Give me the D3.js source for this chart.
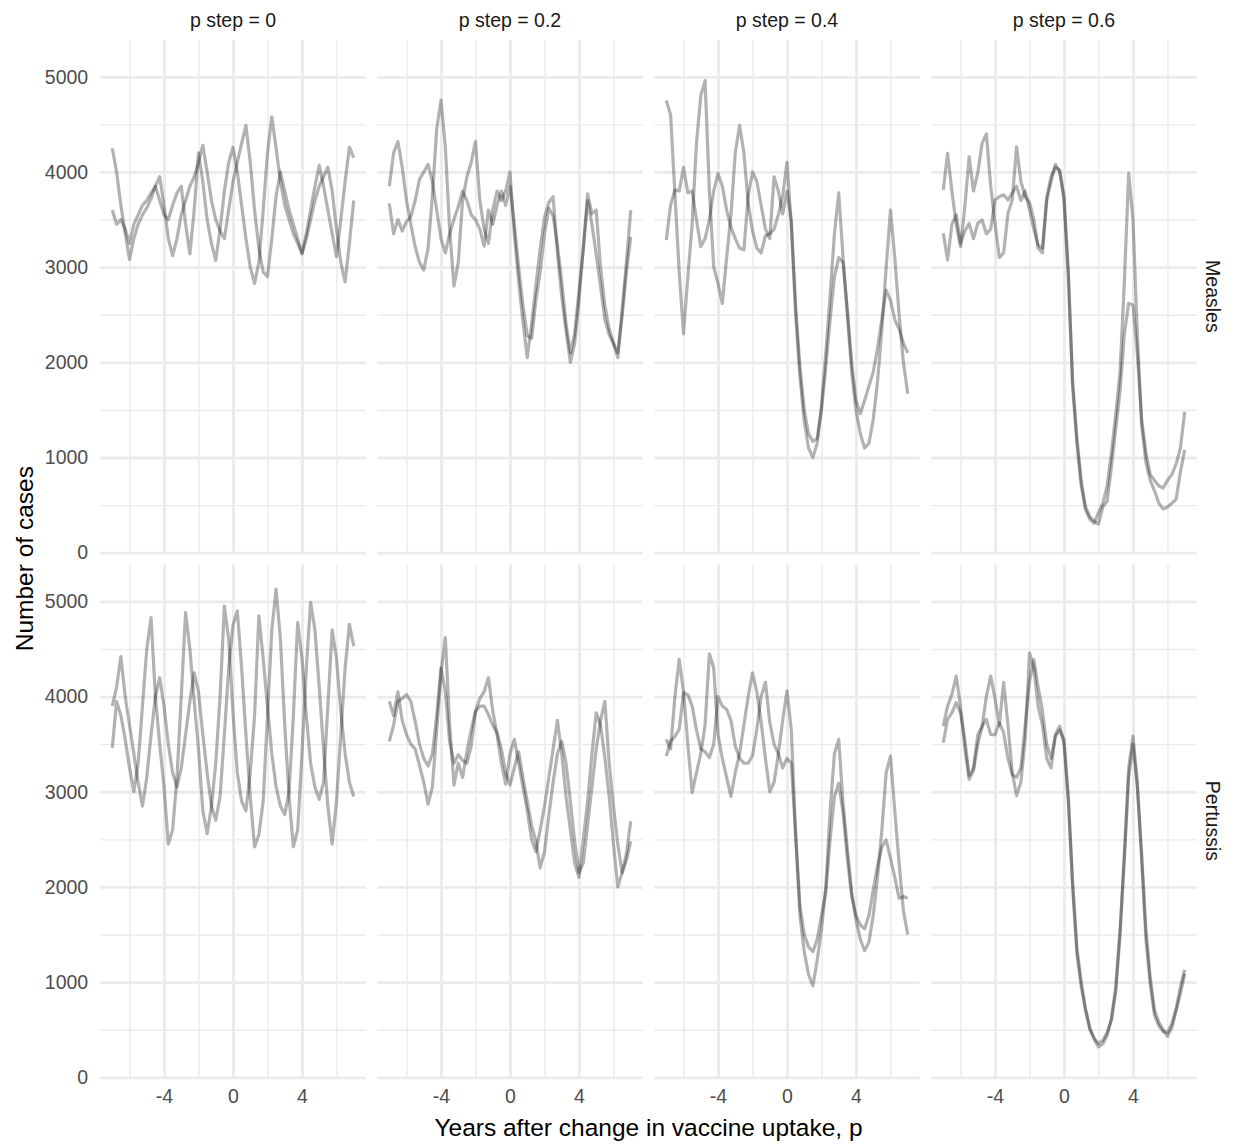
<!DOCTYPE html>
<html>
<head>
<meta charset="utf-8">
<script src="https://cdn.jsdelivr.net/npm/d3@7"></script>
<style>
  body { margin: 0; background: #fff; }
  text { font-family: "Liberation Sans", Arial, Helvetica, sans-serif; }
</style>
</head>
<body>
<svg id="chart" width="1238" height="1145"></svg>
<script>
// sample times (years after the change), one value every quarter year
const years = d3.range(-7, 7.0001, 0.25);

const stepLabels = ["0", "0.2", "0.4", "0.6"];
const diseases = ["Measles", "Pertussis"];
const yBreaks = [0, 1000, 2000, 3000, 4000, 5000];
const yMinorBreaks = [500, 1500, 2500, 3500, 4500];
const xBreaks = [-4, 0, 4];
const xMinorBreaks = [-6, -2, 2, 6];

// two simulation runs per panel
const measles_p0_a = [4250,4000,3650,3350,3080,3300,3450,3550,3620,3720,
  3850,3950,3650,3300,3120,3300,3550,3700,3850,3950,
  4100,4280,4000,3700,3500,3380,3300,3600,3900,4100,
  4300,4490,4100,3600,3200,2950,2900,3300,3750,4000,
  3800,3600,3450,3300,3150,3350,3600,3850,4070,3850,
  3600,3350,3110,3500,3900,4260,4150];
const measles_p0_b = [3600,3450,3500,3400,3250,3450,3550,3650,3700,3780,
  3850,3700,3550,3500,3650,3780,3850,3450,3140,3600,
  4200,3900,3500,3250,3070,3400,3800,4100,4260,4000,
  3650,3300,3000,2830,3050,3600,4200,4580,4250,3900,
  3650,3500,3350,3250,3140,3300,3500,3700,3850,3950,
  4050,3800,3400,3050,2845,3250,3700];

const measles_p02_a = [3850,4200,4320,4050,3700,3450,3215,3050,2970,3200,
  3750,4450,4755,4265,3400,2800,3050,3700,3950,4100,
  4320,3700,3400,3250,3600,3800,3700,3800,4000,3350,
  2850,2430,2050,2400,2800,3200,3520,3680,3740,3150,
  2690,2330,2000,2200,2650,3200,3700,3450,3130,2800,
  2450,2290,2200,2050,2550,3050,3600];
const measles_p02_b = [3670,3350,3500,3380,3480,3530,3700,3920,4000,4080,
  3900,3600,3300,3150,3350,3500,3635,3800,3700,3550,
  3500,3400,3220,3600,3450,3650,3800,3650,3850,3450,
  3000,2600,2280,2250,2650,2950,3350,3620,3540,3230,
  2850,2400,2100,2300,2750,3200,3770,3560,3600,3000,
  2600,2350,2200,2100,2480,2950,3320];

const measles_p04_a = [4750,4600,3775,2950,2300,2900,3450,4300,4800,4960,
  3800,3000,2830,2620,3100,3550,4200,4490,4200,3670,
  3380,3200,3150,3330,3350,3400,3550,3750,4100,3450,
  2500,1850,1380,1100,1000,1150,1550,2100,2700,3350,
  3780,3100,2500,1900,1500,1250,1100,1150,1400,1800,
  2350,3000,3600,3100,2500,2000,1670];
const measles_p04_b = [3285,3650,3810,3800,4050,3780,3800,3500,3215,3300,
  3500,3800,3985,3850,3600,3420,3300,3200,3180,3750,
  4000,3900,3650,3400,3300,3950,3800,3560,3800,3480,
  2600,1950,1500,1250,1170,1200,1500,1950,2450,2900,
  3100,3050,2550,2000,1600,1460,1600,1750,1900,2150,
  2450,2760,2650,2450,2350,2200,2100];

const measles_p06_a = [3810,4195,3800,3450,3215,3635,4160,3800,3990,4300,
  4400,3850,3460,3100,3150,3565,3705,4265,3900,3740,
  3680,3500,3200,3150,3740,3950,4050,4020,3700,2900,
  1750,1150,700,450,350,310,420,520,700,1050,
  1450,1900,2850,3985,3500,2300,1350,950,760,650,
  520,460,480,520,560,850,1080];
const measles_p06_b = [3355,3075,3450,3550,3250,3380,3460,3300,3460,3495,
  3350,3400,3705,3740,3760,3705,3780,3850,3700,3800,
  3600,3400,3230,3200,3700,3900,4080,4000,3750,2950,
  1800,1200,750,480,380,330,300,480,540,900,
  1300,1700,2300,2620,2600,2100,1400,1050,820,760,
  700,680,760,820,930,1100,1480];

const pertussis_p0_a = [3900,4100,4420,4000,3700,3400,3100,2850,3150,3600,
  4000,4200,3900,3500,3200,3050,3250,3600,3950,4250,
  4050,3600,3200,2850,2700,2950,3600,4300,4750,4900,
  4300,3600,2950,2420,2550,2900,3800,4700,5130,4600,
  3700,2950,2420,2600,3400,4300,4990,4700,4100,3450,
  2850,2450,2900,3600,4300,4760,4530];
const pertussis_p0_b = [3460,3950,3800,3550,3250,3000,3300,3900,4500,4830,
  4000,3500,3050,2450,2600,3150,4000,4885,4500,3950,
  3450,2800,2560,2850,3300,4000,4950,4600,3830,3200,
  2900,2800,3200,3800,4850,4400,3900,3400,3050,2850,
  2760,3000,3800,4780,4400,3800,3300,3050,2920,3100,
  3900,4700,4400,3850,3400,3100,2950];

const pertussis_p02_a = [3950,3800,4050,3750,3600,3500,3450,3280,3100,2870,
  3050,3650,4250,4620,3700,3070,3300,3150,3420,3650,
  3850,3980,4050,4200,3850,3600,3300,3080,3400,3550,
  3300,3050,2800,2500,2370,2600,2850,3150,3450,3750,
  3400,2950,2600,2250,2100,2500,2900,3400,3830,3700,
  3360,2950,2450,2000,2150,2350,2690];
const pertussis_p02_b = [3530,3700,3950,3980,4020,3950,3740,3500,3350,3270,
  3400,3800,4300,4050,3530,3300,3390,3330,3300,3480,
  3840,3900,3900,3810,3700,3620,3450,3200,3070,3250,
  3420,3150,2900,2650,2480,2200,2370,2750,3100,3400,
  3530,3300,2900,2480,2150,2250,2650,3050,3450,3750,
  3950,3300,2850,2450,2150,2280,2480];

const pertussis_p04_a = [3550,3450,4000,4390,4050,3500,2990,3200,3400,3700,
  4450,4300,3600,3350,3150,2950,3200,3400,3700,4000,
  4250,4050,3730,3350,3000,3100,3400,3750,4060,3650,
  2550,1700,1320,1080,960,1230,1550,2000,2800,3400,
  3550,2880,2400,1950,1650,1450,1330,1420,1700,2100,
  2600,3200,3375,2800,2250,1750,1500];
const pertussis_p04_b = [3375,3530,3580,3655,4040,4020,3900,3650,3450,3420,
  3360,3500,4000,3900,3865,3750,3480,3350,3300,3300,
  3380,3655,4000,4150,3730,3500,3400,3250,3350,3300,
  2550,1800,1500,1370,1320,1450,1700,1950,2500,2950,
  3090,2780,2300,1900,1700,1600,1560,1700,1970,2220,
  2420,2495,2300,2100,1880,1900,1880];

const pertussis_p06_a = [3690,3900,4020,4215,3900,3450,3130,3220,3500,3680,
  4005,4215,3980,3700,4150,3700,3200,2960,3100,3550,
  4460,4300,3900,3700,3350,3250,3600,3690,3500,2900,
  2000,1300,950,700,500,410,355,390,470,600,
  900,1500,2350,3250,3585,3100,2300,1450,980,650,
  540,480,470,560,720,950,1130];
const pertussis_p06_b = [3515,3760,3830,3935,3830,3550,3170,3250,3600,3690,
  3760,3600,3600,3725,3620,3350,3180,3150,3250,3700,
  4150,4390,4100,3850,3500,3350,3580,3650,3550,2950,
  2050,1350,1000,720,520,400,320,350,440,620,
  950,1550,2300,3150,3500,3050,2350,1550,1050,700,
  580,500,430,520,700,880,1090];

const runsByPanel = [
  [[measles_p0_a, measles_p0_b], [measles_p02_a, measles_p02_b],
   [measles_p04_a, measles_p04_b], [measles_p06_a, measles_p06_b]],
  [[pertussis_p0_a, pertussis_p0_b], [pertussis_p02_a, pertussis_p02_b],
   [pertussis_p04_a, pertussis_p04_b], [pertussis_p06_a, pertussis_p06_b]]
];

// layout
const plotLeft = 100.2, plotTop = 40;
const panelW = 265.6, panelH = 512.7;
const gapX = 11.4, gapY = 11.9;
const gridColor = "#ebebeb";

const svg = d3.select("#chart");

// ggplot style 5% expansion on x, and on top of y only
const xExt = d3.extent(years);
const xPad = (xExt[1] - xExt[0]) * 0.05;
const x = d3.scaleLinear()
  .domain([xExt[0] - xPad, xExt[1] + xPad])
  .range([0, panelW]);

const yMax = d3.max(runsByPanel.flat(2).flat());
const y = d3.scaleLinear()
  .domain([0, yMax * 1.05])
  .range([panelH, 0]);

const line = d3.line()
  .x(d => x(d[0]))
  .y(d => y(d[1]));

// plain labels: no thousands comma, ascii hyphen for negatives
const plain = d => String(d);

function gridLines(sel, width) {
  sel.select(".domain").remove();
  sel.selectAll("line").attr("stroke", gridColor).attr("stroke-width", width);
}

function tickText(sel) {
  sel.select(".domain").remove();
  sel.selectAll("text")
    .style("font-size", "19.5px")
    .style("font-family", '"Liberation Sans", Arial, sans-serif')
    .attr("fill", "#4d4d4d");
}

diseases.forEach((disease, r) => {
  stepLabels.forEach((step, c) => {
    const px = plotLeft + c * (panelW + gapX);
    const py = plotTop + r * (panelH + gapY);
    const g = svg.append("g").attr("transform", `translate(${px},${py})`);

    // minor grid first, then major
    g.append("g")
      .call(d3.axisLeft(y).tickValues(yMinorBreaks).tickSize(-panelW).tickFormat(""))
      .call(gridLines, 1.4);
    g.append("g")
      .attr("transform", `translate(0,${panelH})`)
      .call(d3.axisBottom(x).tickValues(xMinorBreaks).tickSize(-panelH).tickFormat(""))
      .call(gridLines, 1.4);
    g.append("g")
      .call(d3.axisLeft(y).tickValues(yBreaks).tickSize(-panelW).tickFormat(""))
      .call(gridLines, 2.8);
    g.append("g")
      .attr("transform", `translate(0,${panelH})`)
      .call(d3.axisBottom(x).tickValues(xBreaks).tickSize(-panelH).tickFormat(""))
      .call(gridLines, 2.8);

    // the two runs
    runsByPanel[r][c].forEach(vals => {
      g.append("path")
        .datum(years.map((t, i) => [t, vals[i]]))
        .attr("d", line)
        .attr("fill", "none")
        .attr("stroke", "#000")
        .attr("stroke-opacity", 0.3)
        .attr("stroke-width", 3.2)
        .attr("stroke-linejoin", "round");
    });

    // tick labels on the outer panels only
    if (c === 0) {
      g.append("g")
        .call(d3.axisLeft(y).tickValues(yBreaks).tickFormat(plain).tickSize(0).tickPadding(12))
        .call(tickText);
    }
    if (r === diseases.length - 1) {
      g.append("g")
        .attr("transform", `translate(0,${panelH})`)
        .call(d3.axisBottom(x).tickValues(xBreaks).tickFormat(plain).tickSize(0).tickPadding(12))
        .call(tickText);
    }

    // strips
    if (r === 0) {
      svg.append("text")
        .attr("x", px + panelW / 2)
        .attr("y", 27)
        .attr("text-anchor", "middle")
        .style("font-size", "19.5px")
        .attr("fill", "#1a1a1a")
        .text(`p step = ${step}`);
    }
    if (c === stepLabels.length - 1) {
      svg.append("text")
        .attr("transform", `translate(1206,${py + panelH / 2}) rotate(90)`)
        .attr("text-anchor", "middle")
        .style("font-size", "19.5px")
        .attr("fill", "#1a1a1a")
        .text(disease);
    }
  });
});

const plotRight = plotLeft + 4 * panelW + 3 * gapX;
const plotBottom = plotTop + 2 * panelH + gapY;

svg.append("text")
  .attr("x", (plotLeft + plotRight) / 2)
  .attr("y", 1136)
  .attr("text-anchor", "middle")
  .style("font-size", "24.5px")
  .attr("fill", "#000")
  .text("Years after change in vaccine uptake, p");

svg.append("text")
  .attr("transform", `translate(33,${(plotTop + plotBottom) / 2}) rotate(-90)`)
  .attr("text-anchor", "middle")
  .style("font-size", "24.5px")
  .attr("fill", "#000")
  .text("Number of cases");
</script>
</body>
</html>
